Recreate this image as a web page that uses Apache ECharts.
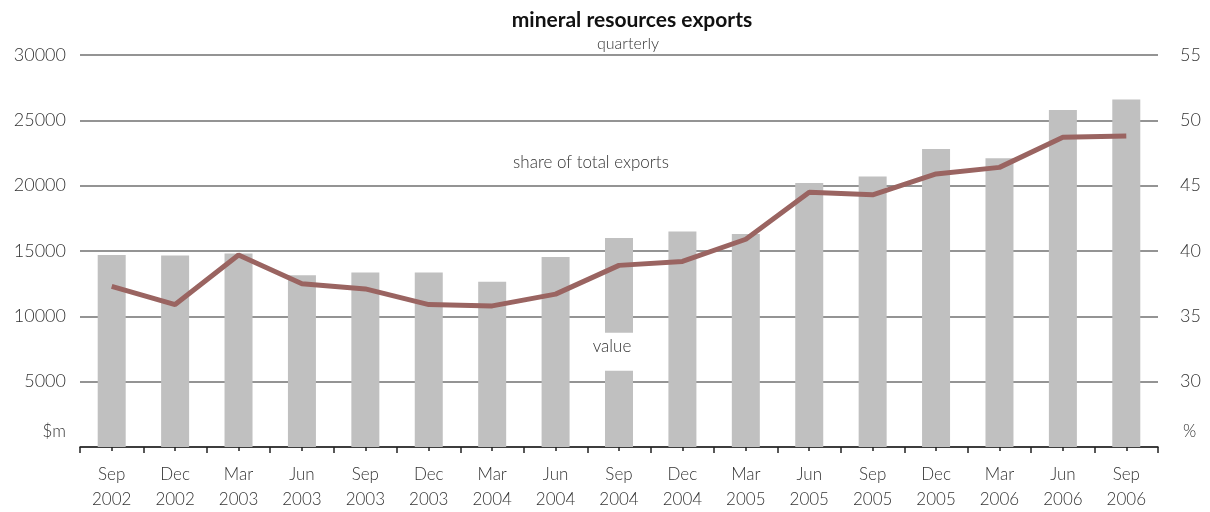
<!DOCTYPE html>
<html>
<head>
<meta charset="utf-8">
<script src="https://cdn.jsdelivr.net/npm/echarts@6/dist/echarts.min.js"></script>
<style>
html,body{margin:0;padding:0;background:#fff;}
#chart{width:1210px;height:512px;}
</style>
</head>
<body>
<div id="chart"></div>
<script>
const categories = ['Sep\n2002','Dec\n2002','Mar\n2003','Jun\n2003','Sep\n2003','Dec\n2003','Mar\n2004','Jun\n2004','Sep\n2004','Dec\n2004','Mar\n2005','Jun\n2005','Sep\n2005','Dec\n2005','Mar\n2006','Jun\n2006','Sep\n2006'];
const exportValue = [14700,14650,14800,13150,13350,13350,12650,14550,16000,16500,16300,20200,20700,22800,22100,25800,26600];
const shareOfTotal = [37.3,35.9,39.7,37.5,37.1,35.9,35.8,36.7,38.9,39.2,40.9,44.5,44.3,45.9,46.4,48.7,48.8];
const leftTicks = [0,5000,10000,15000,20000,25000,30000];
const rightTicks = [25,30,35,40,45,50,55];
const valueLabelAt = [8, 7285];

const FONT = 'Lato';
const chart = echarts.init(document.getElementById('chart'));
chart.setOption({
  animation:false,
  backgroundColor:'#fff',
  title:{text:'mineral resources exports', left:627, top:5, textAlign:'center',
    textStyle:{fontFamily:FONT, fontWeight:'bold', fontSize:21, color:'#111'}},
  grid:{left:80, right:52, top:55, bottom:58},
  xAxis:[{
    type:'category', data:categories, boundaryGap:true,
    axisLine:{lineStyle:{color:'#222', width:1.5}},
    axisTick:{show:true, length:6, lineStyle:{color:'#222', width:1.5}},
    axisLabel:{fontFamily:FONT, fontWeight:300, fontSize:17, color:'#333', lineHeight:25, margin:15, interval:0},
    splitLine:{show:false}
  },{
    type:'category', data:categories, boundaryGap:true, position:'bottom',
    axisLine:{show:false},
    axisTick:{show:true, alignWithLabel:true, length:4, lineStyle:{color:'#222', width:1.5}},
    axisLabel:{show:false}
  }],
  yAxis:[{
    type:'value', min:leftTicks[0], max:leftTicks[leftTicks.length-1], interval:5000,
    axisLine:{show:false}, axisTick:{show:false},
    axisLabel:{fontFamily:FONT, fontWeight:300, fontSize:18, color:'#333', margin:14,
      formatter:v=> v===leftTicks[0] ? '' : String(v)},
    splitLine:{lineStyle:{color:'#707070', width:1.5}}
  },{
    type:'value', min:rightTicks[0], max:rightTicks[rightTicks.length-1], interval:5,
    axisLine:{show:false}, axisTick:{show:false},
    axisLabel:{fontFamily:FONT, fontWeight:300, fontSize:18, color:'#333', margin:22,
      formatter:v=> v===rightTicks[0] ? '' : String(v)},
    splitLine:{show:false}
  }],
  series:[{
    name:'value', type:'bar', data:exportValue, barWidth:28,
    itemStyle:{color:'#c0c0c0'},
    markPoint:{
      symbol:'rect', symbolSize:[30,38], silent:true,
      itemStyle:{color:'#fff'},
      label:{show:true, formatter:'value', fontFamily:FONT, fontWeight:300, fontSize:17, color:'#333', offset:[-7,-5]},
      data:[{coord:valueLabelAt}]
    }
  },{
    name:'share of total exports', type:'line', yAxisIndex:1, data:shareOfTotal,
    symbol:'none', lineStyle:{color:'#9a6461', width:5}, itemStyle:{color:'#9a6461'}, z:5
  }],
  graphic:[
    {type:'text', style:{text:'quarterly', x:628, y:44, textAlign:'center', textVerticalAlign:'middle', font:'300 16px Lato', fill:'#333'}, z:10},
    {type:'text', style:{text:'share of total exports', x:591, y:163, textAlign:'center', textVerticalAlign:'middle', font:'300 17px Lato', fill:'#333'}, z:10},
    {type:'text', style:{text:'$m', x:66, y:432, textAlign:'right', textVerticalAlign:'middle', font:'300 17px Lato', fill:'#333'}, z:10},
    {type:'text', style:{text:'%', x:1183, y:432, textAlign:'left', textVerticalAlign:'middle', font:'300 17px Lato', fill:'#333'}, z:10}
  ]
});
</script>
</body>
</html>
